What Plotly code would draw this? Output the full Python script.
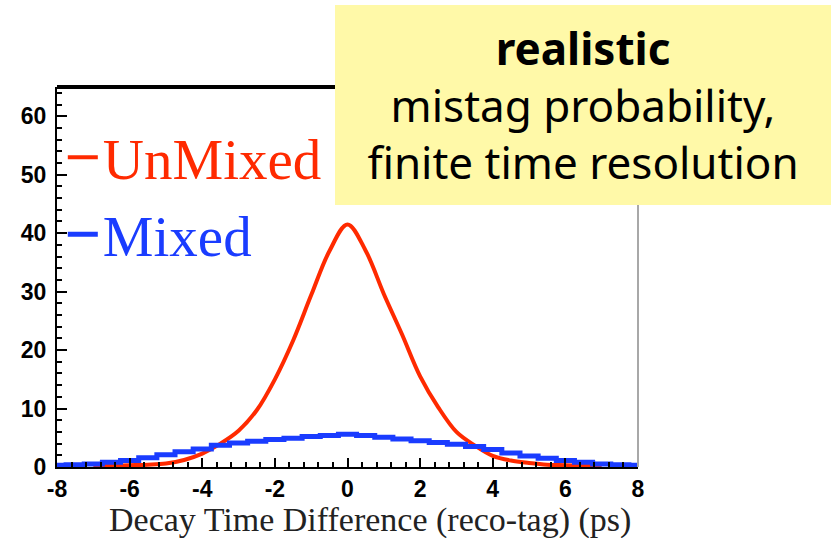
import plotly.graph_objects as go

# UnMixed (red) histogram-like curve
t_red = [-7.0, -6.5, -6.0, -5.5, -5.0, -4.5, -4.0, -3.5, -3.0, -2.5, -2.0, -1.5, -1.0, -0.5, 0.0,
         0.5, 1.0, 1.5, 2.0, 2.5, 3.0, 3.5, 4.0, 4.5, 5.0, 5.5, 6.0, 6.5, 7.0]
unmixed = [0.1, 0.2, 0.3, 0.4, 0.6, 1.2, 2.3, 4.0, 6.2, 9.7, 15.0, 21.6, 29.4, 36.9, 41.5,
           37.0, 29.6, 22.7, 15.5, 10.2, 6.0, 3.7, 1.9, 1.1, 0.7, 0.4, 0.3, 0.2, 0.1]

# Mixed (blue) histogram
t_blue = [-8.0, -7.5, -7.0, -6.5, -6.0, -5.5, -5.0, -4.5, -4.0, -3.5, -3.0, -2.5, -2.0, -1.5, -1.0, -0.5, 0.0,
          0.5, 1.0, 1.5, 2.0, 2.5, 3.0, 3.5, 4.0, 4.5, 5.0, 5.5, 6.0, 6.5, 7.0, 7.5, 8.0]
mixed = [0.3, 0.4, 0.5, 0.8, 1.1, 1.6, 2.1, 2.6, 3.1, 3.7, 4.1, 4.4, 4.7, 4.9, 5.2, 5.4, 5.6,
         5.4, 5.1, 4.8, 4.5, 4.2, 3.9, 3.5, 3.0, 2.4, 1.9, 1.5, 1.1, 0.8, 0.5, 0.4, 0.3]

x_tickvals = [-8, -6, -4, -2, 0, 2, 4, 6, 8]
x_ticktext = ["-8", "-6", "-4", "-2", "0", "2", "4", "6", "8"]
y_tickvals = [0, 10, 20, 30, 40, 50, 60]

RED = "#ff2a00"
BLUE = "#1a3cff"

fig = go.Figure()
fig.add_trace(go.Scatter(x=t_red, y=unmixed, mode="lines",
                         name=f"<span style='color:{RED}'>UnMixed</span>",
                         line=dict(color=RED, width=4, shape="spline")))
fig.add_trace(go.Scatter(x=t_blue, y=mixed, mode="lines",
                         name=f"<span style='color:{BLUE}'>Mixed</span>",
                         line=dict(color=BLUE, width=5, shape="hvh")))

axis_font = dict(family="Liberation Sans, Arial", size=23, color="black", weight="bold")

fig.update_layout(
    width=831, height=538,
    margin=dict(l=57, r=193, t=87, b=71),
    paper_bgcolor="white", plot_bgcolor="white",
    showlegend=True,
    legend=dict(x=0.01, y=0.93, xanchor="left", yanchor="top",
                bgcolor="rgba(0,0,0,0)", borderwidth=0,
                font=dict(family="Liberation Serif, Times New Roman", size=57, color=RED),
                itemwidth=30, tracegroupgap=0),
    xaxis=dict(range=[-8, 8], tickvals=x_tickvals, ticktext=x_ticktext,
               ticks="inside", ticklen=9, tickwidth=2, tickcolor="black",
               minor=dict(dtick=0.4, ticks="inside", ticklen=5, tickwidth=1.5, tickcolor="black"),
               showline=True, linecolor="black", linewidth=2,
               showgrid=False, zeroline=False, tickfont=axis_font),
    yaxis=dict(range=[0, 65], tickvals=y_tickvals,
               ticks="inside", ticklen=10, tickwidth=2, tickcolor="black",
               minor=dict(dtick=2, ticks="inside", ticklen=5, tickwidth=1.5, tickcolor="black"),
               showline=True, linecolor="black", linewidth=2, ticklabelstandoff=4,
               showgrid=False, zeroline=False, tickfont=axis_font),
    shapes=[
        dict(type="line", xref="paper", yref="paper", x0=0, x1=1, y0=1, y1=1,
             line=dict(color="black", width=4)),
        dict(type="line", xref="paper", yref="paper", x0=1, x1=1, y0=0, y1=1,
             line=dict(color="#a8a8a8", width=2)),
    ],
    annotations=[
        dict(text="Decay Time Difference (reco-tag) (ps)", xref="paper", yref="paper",
             x=0.539, y=-0.14, xanchor="center", yanchor="middle", showarrow=False,
             font=dict(family="Liberation Serif, Times New Roman", size=34, color="#222")),
        dict(text="<b>realistic</b><br>mistag probability,<br>finite time resolution",
             xref="paper", yref="paper", x=(335 - 57) / 581, y=(467 - 5) / 380,
             xanchor="left", yanchor="top", showarrow=False,
             width=496, height=200, bgcolor="#fff9a8", borderpad=0, borderwidth=0,
             align="center", valign="middle",
             font=dict(family="Comic Sans MS, Noto Sans", size=44, color="black")),
    ],
)

fig.write_html("out.html")
